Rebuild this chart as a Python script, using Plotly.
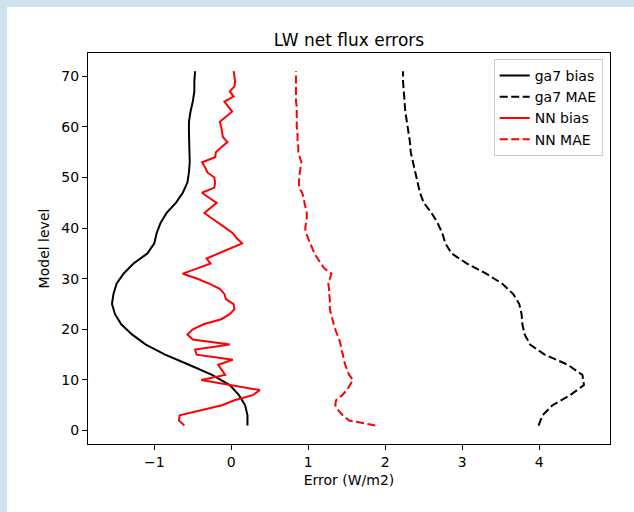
import plotly.graph_objects as go

# ---------------- data ----------------
levels_all = list(range(1, 72))
levels_odd = list(range(1, 72, 2))

# ga7 bias (smooth, odd levels)
ga7_bias = [0.21, 0.21, 0.18, 0.10, -0.02, -0.25, -0.55, -0.86, -1.11, -1.29,
            -1.43, -1.51, -1.55, -1.53, -1.49, -1.40, -1.27, -1.09, -1.00, -0.97,
            -0.92, -0.84, -0.72, -0.63, -0.57, -0.55, -0.54, -0.545, -0.55, -0.55,
            -0.55, -0.53, -0.50, -0.48, -0.48, -0.47]

# ga7 MAE (smooth, odd levels)
ga7_mae = [3.99, 4.04, 4.17, 4.40, 4.58, 4.56, 4.37, 4.07, 3.88, 3.81,
           3.78, 3.77, 3.74, 3.66, 3.52, 3.31, 3.06, 2.86, 2.78, 2.74,
           2.68, 2.60, 2.50, 2.45, 2.42, 2.39, 2.36, 2.33, 2.32, 2.30,
           2.28, 2.26, 2.25, 2.24, 2.23, 2.23]

# NN bias (every level)
nn_bias = [-0.61, -0.68, -0.67, -0.40, -0.12, 0.04, 0.28, 0.37, 0.01, -0.39,
           -0.08, -0.13, -0.17, 0.02, -0.45, -0.47, -0.02, -0.50, -0.57, -0.50,
           -0.36, -0.13, -0.02, 0.04, 0.03, -0.07, -0.09, -0.15, -0.28, -0.44,
           -0.63, -0.45, -0.27, -0.32, -0.17, -0.02, 0.14, 0.07, 0.02, -0.07,
           -0.17, -0.26, -0.35, -0.27, -0.19, -0.29, -0.38, -0.22, -0.21, -0.22,
           -0.31, -0.34, -0.38, -0.21, -0.20, -0.13, -0.05, -0.11, -0.12, -0.13,
           -0.15, -0.07, 0.01, -0.04, -0.09, 0.03, -0.02, 0.04, 0.05, 0.04, 0.03]

# NN MAE (every level)
nn_mae = [1.87, 1.53, 1.45, 1.39, 1.35, 1.36, 1.44, 1.50, 1.54, 1.58,
          1.53, 1.50, 1.48, 1.46, 1.45, 1.43, 1.42, 1.40, 1.37, 1.35,
          1.33, 1.31, 1.29, 1.28, 1.28, 1.28, 1.27, 1.27, 1.26, 1.28,
          1.30, 1.21, 1.16, 1.12, 1.08, 1.05, 1.02, 0.99, 0.97, 0.96,
          0.97, 0.98, 0.98, 0.96, 0.95, 0.94, 0.92, 0.88, 0.88, 0.88,
          0.89, 0.90, 0.91, 0.89, 0.87, 0.87, 0.86, 0.86, 0.86, 0.85,
          0.85, 0.85, 0.85, 0.85, 0.84, 0.84, 0.84, 0.84, 0.84, 0.84, 0.84]

x_tickvals = [-1, 0, 1, 2, 3, 4]
x_ticktext = ["\u22121", "0", "1", "2", "3", "4"]
y_tickvals = [0, 10, 20, 30, 40, 50, 60, 70]
y_ticktext = ["0", "10", "20", "30", "40", "50", "60", "70"]

# ---------------- figure ----------------
FONT = "DejaVu Sans"
DASH = "8px,3.5px"
LW = 2

fig = go.Figure()
fig.add_trace(go.Scatter(x=ga7_bias, y=levels_odd, mode="lines", name="ga7 bias",
                         line=dict(color="black", width=LW)))
fig.add_trace(go.Scatter(x=ga7_mae, y=levels_odd, mode="lines", name="ga7 MAE",
                         line=dict(color="black", width=LW, dash=DASH)))
fig.add_trace(go.Scatter(x=nn_bias, y=levels_all, mode="lines", name="NN bias",
                         line=dict(color="red", width=LW)))
fig.add_trace(go.Scatter(x=nn_mae, y=levels_all, mode="lines", name="NN MAE",
                         line=dict(color="red", width=LW, dash=DASH)))

W, H = 634, 512
L, R, T, B = 88, 24, 53, 68
pw, ph = W - L - R, H - T - B

def px_x(p):
    return (p - L) / pw

def px_y(p):
    return (H - B - p) / ph

fig.add_shape(type="rect", xref="paper", yref="paper",
              x0=px_x(7), x1=px_x(W + 20), y0=px_y(H + 20), y1=px_y(7),
              fillcolor="white", line=dict(width=0), layer="below")

axis_common = dict(
    showline=True, mirror=True, linecolor="black", linewidth=1,
    ticks="outside", ticklen=5, tickwidth=1, tickcolor="black",
    showgrid=False, zeroline=False,
    tickfont=dict(family=FONT, size=14, color="black"),
)

fig.update_layout(
    width=W, height=H,
    margin=dict(l=L, r=R, t=T, b=B),
    paper_bgcolor="#cfe3ee",
    plot_bgcolor="white",
    font=dict(family=FONT, size=14, color="black"),
    title=dict(text="LW net flux errors", x=0.5, xref="paper", xanchor="center",
               y=1 - 40 / H, yref="container", yanchor="middle",
               font=dict(family=FONT, size=17, color="black")),
    xaxis=dict(range=[-1.861, 4.918], tickvals=x_tickvals, ticktext=x_ticktext,
               title=dict(text="Error (W/m2)", standoff=6,
                          font=dict(family=FONT, size=14, color="black")),
               **axis_common),
    yaxis=dict(range=[-2.65, 74.6], tickvals=y_tickvals, ticktext=y_ticktext,
               title=dict(text="Model level", standoff=8,
                          font=dict(family=FONT, size=14, color="black")),
               **axis_common),
    legend=dict(x=px_x(602.7), y=px_y(59), xanchor="right", yanchor="top",
                bgcolor="rgba(255,255,255,0.8)", bordercolor="#cccccc", borderwidth=1,
                font=dict(family=FONT, size=14, color="black"), itemwidth=30,
                tracegroupgap=0),
    showlegend=True,
)

fig.write_html("out.html",
               config={"displayModeBar": False},
               post_script="document.body.style.margin='0px';"
                           "document.body.style.background='#cfe3ee';"
                           "document.body.style.overflow='hidden';")
